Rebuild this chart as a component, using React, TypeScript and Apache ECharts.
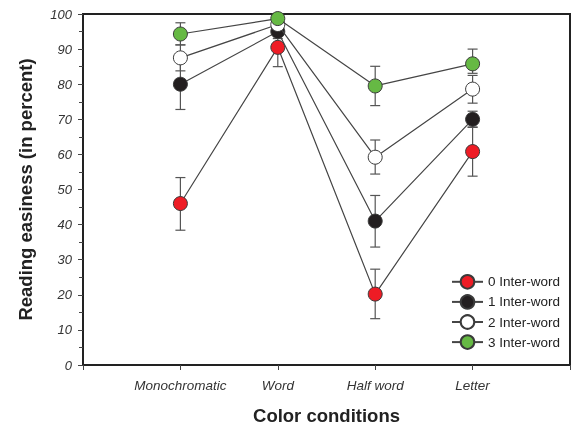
import React, { useEffect, useRef } from "react";
import * as echarts from "echarts";

const categories = ["Monochromatic", "Word", "Half word", "Letter"];
const seriesNames = ["0 Inter-word", "1 Inter-word", "2 Inter-word", "3 Inter-word"];
const colors = ["#ee1c25", "#231f20", "#ffffff", "#66b944"];

const mean0 = [46, 90.5, 20.2, 60.8];
const low0 = [38.4, 85, 13.2, 53.8];
const high0 = [53.4, 96, 27.3, 67.8];

const mean1 = [80, 95, 41, 70];
const low1 = [72.8, 93, 33.6, 67.7];
const high1 = [87.2, 97, 48.3, 72.3];

const mean2 = [87.5, 97, 59.2, 78.6];
const low2 = [83.8, 95, 54.4, 74.6];
const high2 = [91.2, 99, 64.1, 82.5];

const mean3 = [94.3, 98.7, 79.5, 85.8];
const low3 = [91.2, 97.5, 73.9, 83.1];
const high3 = [97.5, 99.9, 85.1, 90];

const yTicks = [0, 10, 20, 30, 40, 50, 60, 70, 80, 90, 100];

export default function App() {
  const ref = useRef<HTMLDivElement>(null);
  useEffect(() => {
    if (!ref.current) return;
    const chart = echarts.init(ref.current, undefined, { renderer: "svg" });
    const means = [mean0, mean1, mean2, mean3];
    const lows = [low0, low1, low2, low3];
    const highs = [high0, high1, high2, high3];

    const errSeries = means.map((m, si) => ({
      type: "custom",
      name: "err" + si,
      z: 1,
      silent: true,
      data: m.map((_, i) => [i + 1, lows[si][i], highs[si][i]]),
      renderItem: (params: any, api: any) => {
        const x = api.value(0);
        const lo = api.coord([x, api.value(1)]);
        const hi = api.coord([x, api.value(2)]);
        const w = 5;
        const st = { stroke: "#555", lineWidth: 1.2 };
        return {
          type: "group",
          children: [
            { type: "line", shape: { x1: lo[0], y1: lo[1], x2: hi[0], y2: hi[1] }, style: st },
            { type: "line", shape: { x1: lo[0] - w, y1: lo[1], x2: lo[0] + w, y2: lo[1] }, style: st },
            { type: "line", shape: { x1: hi[0] - w, y1: hi[1], x2: hi[0] + w, y2: hi[1] }, style: st },
          ],
        };
      },
    }));

    const order = [0, 2, 1, 3];
    const lineSeries = order.map((si) => ({
      type: "line",
      name: seriesNames[si],
      z: 3 + si,
      data: means[si].map((v, i) => [i + 1, v]),
      symbol: "circle",
      symbolSize: 14,
      showSymbol: true,
      lineStyle: { color: "#454545", width: 1.2 },
      itemStyle: { color: colors[si], borderColor: "#3a3a3a", borderWidth: 1 },
      emphasis: { disabled: true },
    }));

    chart.setOption({
      animation: false,
      grid: {
        left: 83,
        right: 3,
        top: 14,
        bottom: 63,
        show: true,
        borderColor: "#222",
        borderWidth: 2,
        containLabel: false,
        outerBoundsMode: "none",
      },
      legend: {
        data: seriesNames,
        orient: "vertical",
        left: 446,
        top: 269,
        itemWidth: 31,
        itemHeight: 17,
        itemGap: 4.5,
        textStyle: { fontFamily: "Liberation Sans, Arial", fontSize: 13.5, color: "#222" },
      },
      xAxis: {
        type: "value",
        min: 0,
        max: 5,
        interval: 1,
        name: "Color conditions",
        nameLocation: "middle",
        nameGap: 41,
        nameTextStyle: { fontFamily: "Liberation Sans, Arial", fontSize: 18.5, fontWeight: "bold", color: "#222" },
        axisLine: { show: true, onZero: false, lineStyle: { color: "#222", width: 2 } },
        axisTick: { show: true, length: 5, lineStyle: { color: "#444" } },
        splitLine: { show: false },
        axisLabel: {
          margin: 13,
          fontFamily: "Liberation Sans, Arial",
          fontSize: 13.5,
          fontStyle: "italic",
          color: "#333",
          formatter: (v: number) => (v >= 1 && v <= 4 ? categories[v - 1] : ""),
        },
      },
      yAxis: {
        type: "value",
        min: 0,
        max: 100,
        interval: 10,
        name: "Reading easiness (in percent)",
        nameLocation: "middle",
        nameGap: 48,
        nameTextStyle: { fontFamily: "Liberation Sans, Arial", fontSize: 18.5, fontWeight: "bold", color: "#222" },
        axisLine: { show: true, lineStyle: { color: "#222", width: 2 } },
        axisTick: { show: true, length: 5, lineStyle: { color: "#444" } },
        minorTick: { show: true, splitNumber: 2, length: 4, lineStyle: { color: "#444" } },
        splitLine: { show: false },
        axisLabel: {
          margin: 11,
          fontFamily: "Liberation Sans, Arial",
          fontSize: 13,
          fontStyle: "italic",
          color: "#333",
          formatter: (v: number) => (yTicks.indexOf(v) >= 0 ? String(v) : ""),
        },
      },
      series: [...errSeries, ...lineSeries],
    });
    return () => chart.dispose();
  }, []);
  return <div ref={ref} style={{ position: "fixed", left: 0, top: 0, width: 573, height: 428 }} />;
}
